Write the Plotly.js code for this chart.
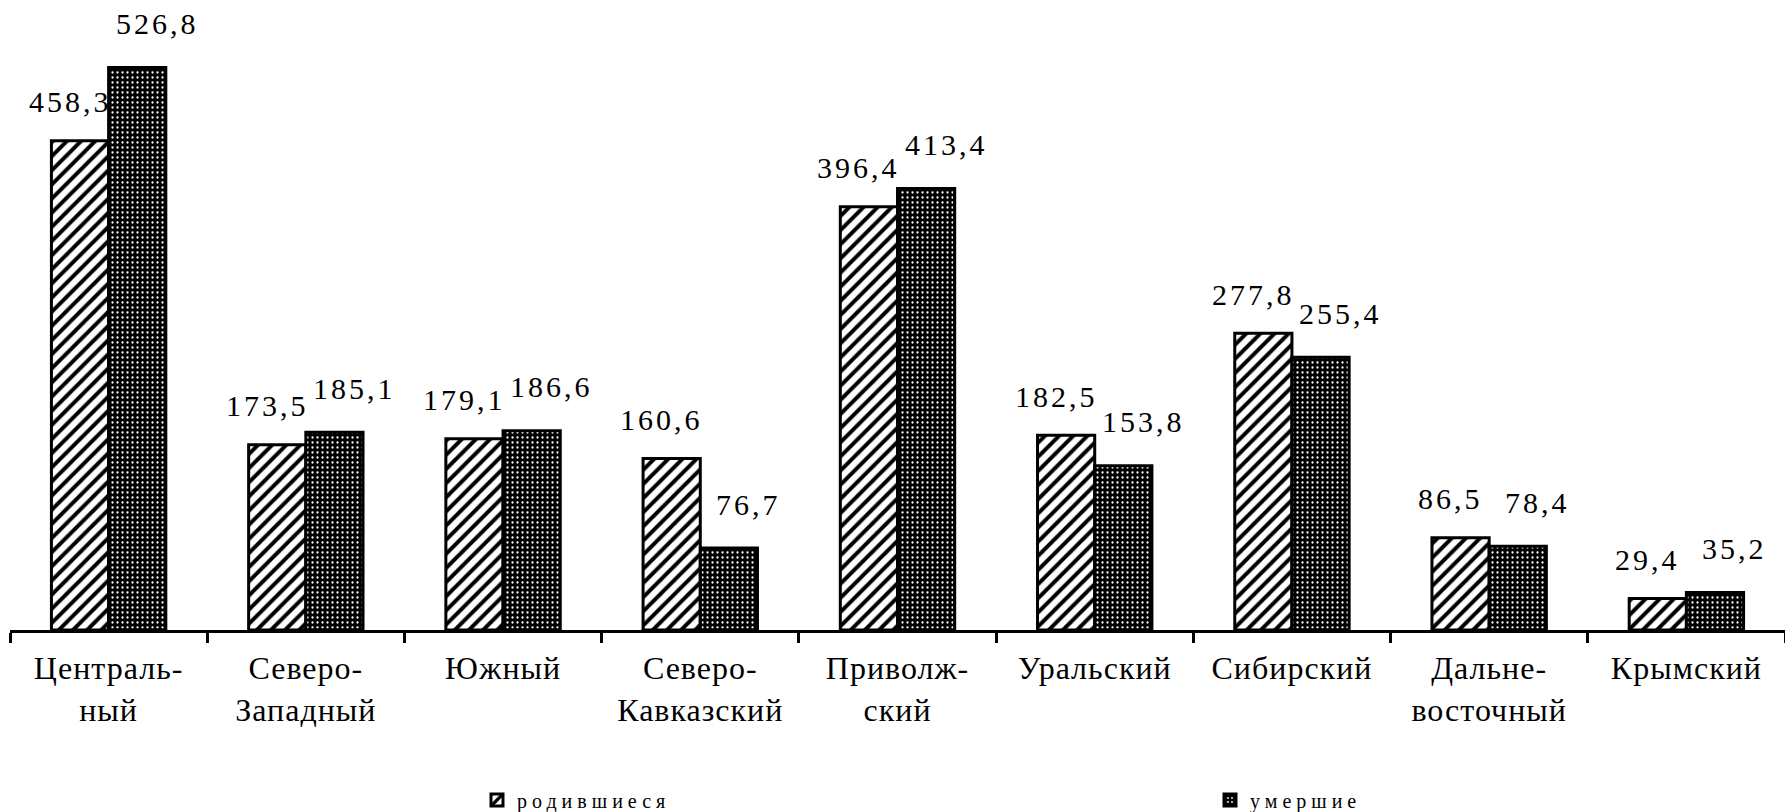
<!DOCTYPE html>
<html>
<head>
<meta charset="utf-8">
<script src="https://cdn.plot.ly/plotly-3.0.1.min.js"></script>
<style>
  html, body { margin: 0; padding: 0; background: #fff; }
  #chart { width: 1785px; height: 812px; }
  .xtick text { letter-spacing: 1px; }
  .annotation-text { letter-spacing: 3px; }
  .legendtext, [class*="legend"] text { letter-spacing: 5px; }
</style>
</head>
<body>
<div id="chart"></div>
<script>
// ---- data ----
const categories = ['Централь-<br>ный', 'Северо-<br>Западный', 'Южный', 'Северо-<br>Кавказский',
                    'Приволж-<br>ский', 'Уральский', 'Сибирский', 'Дальне-<br>восточный', 'Крымский'];
const born = [458.3, 173.5, 179.1, 160.6, 396.4, 182.5, 277.8, 86.5, 29.4];
const died = [526.8, 185.1, 186.6, 76.7, 413.4, 153.8, 255.4, 78.4, 35.2];
const seriesNames = ['родившиеся', 'умершие'];

const fmt = v => v.toFixed(1).replace('.', ',');

const serif = 'Liberation Serif';
const bargap = 0.42;

const traces = [
  {
    type: 'bar', name: seriesNames[0], x: categories, y: born, legend: 'legend',
    marker: {
      color: '#ffffff',
      line: {color: '#000', width: 3},
      pattern: {shape: '/', fgcolor: '#000', bgcolor: '#fff', size: 10, solidity: 0.4}
    },
    hoverinfo: 'skip'
  },
  {
    type: 'bar', name: seriesNames[1], x: categories, y: died, legend: 'legend2',
    marker: {
      color: '#000',
      line: {color: '#000', width: 3},
      pattern: {shape: '.', fgcolor: '#fff', bgcolor: '#000', size: 5, solidity: 0.16}
    },
    hoverinfo: 'skip'
  }
];

const half = (1 - bargap) / 4;
const annotations = [];
born.forEach((v, i) => annotations.push({
  x: i - half, y: v, xref: 'x', yref: 'y', text: fmt(v), showarrow: false,
  xshift: -10, yshift: 39, yanchor: 'middle',
  font: {family: serif, size: 30, color: '#000'}
}));
died.forEach((v, i) => annotations.push({
  x: i + half, y: v, xref: 'x', yref: 'y', text: fmt(v), showarrow: false,
  xshift: 20, yshift: 44, yanchor: 'middle',
  font: {family: serif, size: 30, color: '#000'}
}));

const legendCommon = {
  orientation: 'h', xanchor: 'left', yanchor: 'middle',
  yref: 'container', y: 1 - 800 / 812,
  font: {family: serif, size: 20, color: '#000'},
  entrywidth: 170,
  itemclick: false, bgcolor: 'rgba(0,0,0,0)'
};

const layout = {
  width: 1785, height: 812,
  margin: {l: 10, r: 0, t: 0, b: 182},
  paper_bgcolor: '#fff', plot_bgcolor: '#fff',
  font: {family: serif},
  barmode: 'group', bargap: bargap, bargroupgap: 0,
  showlegend: true,
  legend: Object.assign({}, legendCommon, {x: (477 - 10) / 1775}),
  legend2: Object.assign({}, legendCommon, {x: (1210 - 10) / 1775}),
  xaxis: {
    type: 'category', categoryorder: 'array', categoryarray: categories,
    range: [-0.5, categories.length - 0.5],
    showline: true, linecolor: '#000', linewidth: 3,
    ticks: 'outside', tickson: 'boundaries', ticklen: 10, tickwidth: 3, tickcolor: '#000',
    ticklabelstandoff: 8,
    showgrid: false, zeroline: false,
    tickfont: {family: serif, size: 32, color: '#000'}
  },
  yaxis: {
    range: [0, 590], visible: false, showgrid: false, zeroline: false
  },
  annotations: annotations
};

Plotly.newPlot('chart', traces, layout, {staticPlot: true, displayModeBar: false});
</script>
</body>
</html>
